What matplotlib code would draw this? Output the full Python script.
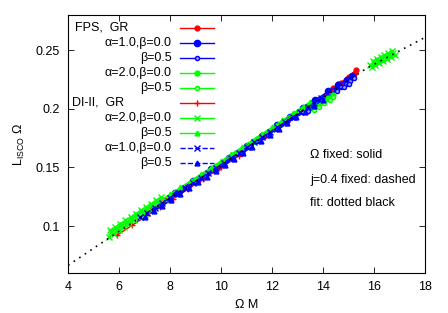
import matplotlib
matplotlib.use('Agg')
import matplotlib.pyplot as plt

plt.rcParams['font.family'] = ['Liberation Sans', 'DejaVu Sans']
plt.rcParams['font.size'] = 9
plt.rcParams['mathtext.default'] = 'regular'

# fit (dotted black)
fit_x = [4.0, 5.65, 10.0, 15.7, 18.0]
fit_y = [0.0665, 0.0905, 0.152, 0.2345, 0.261]

# FPS, GR
fps_gr_x = [[7.3, 7.8, 8.4, 9.1, 9.9, 10.8, 11.7, 12.6, 13.4, 14.1, 14.6, 15.0, 15.3],
            [14.4, 14.7, 14.95, 15.2]]
fps_gr_y = [[0.1150, 0.1220, 0.1300, 0.1395, 0.1505, 0.1635, 0.1765, 0.1895, 0.2015, 0.2120, 0.2210, 0.2275, 0.2330],
            [0.2175, 0.2220, 0.2258, 0.2300]]
# FPS alpha=1.0, beta=0.0
fps_a1b0_x = [[8.2, 8.9, 9.6, 10.3, 11.0, 11.6, 12.2, 12.7, 13.2, 13.7, 14.2, 14.6, 14.95, 15.15]]
fps_a1b0_y = [[0.1285, 0.1385, 0.1483, 0.1583, 0.1685, 0.1772, 0.1860, 0.1933, 0.2005, 0.2078, 0.2148, 0.2200, 0.2250, 0.2280]]
# FPS beta=0.5
fps_a1b5_x = [[8.0, 8.35, 8.7, 9.05, 9.4, 9.75, 10.1, 10.45, 10.8, 11.15, 11.5, 11.85, 12.2,
               12.55, 12.9, 13.2, 13.5, 13.75, 14.0, 14.25, 14.5, 14.7, 14.9, 15.05, 15.2],
              [13.4, 13.7, 14.0, 14.3, 14.55, 14.8, 15.0]]
fps_a1b5_y = [[0.1227, 0.1276, 0.1326, 0.1375, 0.1424, 0.1474, 0.1524, 0.1575, 0.1626, 0.1676, 0.1727, 0.1778, 0.1828,
               0.1879, 0.1929, 0.1972, 0.2016, 0.2052, 0.2089, 0.2123, 0.2158, 0.2187, 0.2215, 0.2238, 0.2262],
              [0.1985, 0.2028, 0.2072, 0.2113, 0.2150, 0.2186, 0.2215]]
# FPS alpha=2.0, beta=0.0
fps_a2b0_x = [[9.0, 9.8, 10.6, 11.4, 12.2, 12.9, 13.5],
              [13.6, 13.8, 14.0, 14.2, 14.4]]
fps_a2b0_y = [[0.1395, 0.1510, 0.1625, 0.1740, 0.1855, 0.1955, 0.2040],
              [0.2005, 0.2033, 0.2062, 0.2090, 0.2118]]
# FPS beta=0.5
fps_a2b5_x = [[13.65, 13.85, 14.05, 14.25, 14.4]]
fps_a2b5_y = [[0.1990, 0.2018, 0.2046, 0.2075, 0.2097]]
# DI-II, GR
di_gr_x = [[5.9, 6.5, 7.1, 7.6, 8.1, 8.7, 9.3, 10.0, 10.7]]
di_gr_y = [[0.0920, 0.1005, 0.1090, 0.1160, 0.1230, 0.1315, 0.1400, 0.1500, 0.1600]]
# DI-II alpha=2.0, beta=0.0
di_a2b0_x = [[5.6, 5.8, 6.0, 6.2, 6.4, 6.6, 6.8, 7.0, 7.2, 7.4, 7.6, 7.8],
             [5.7, 5.9, 6.1, 6.3, 6.5, 6.7, 6.9, 7.1, 7.3, 7.5],
             [5.65, 5.85, 6.05, 6.25, 6.45, 6.65, 6.85, 7.05, 7.25, 7.45, 7.65],
             [15.95, 16.1, 16.25, 16.4, 16.55, 16.7],
             [15.85, 16.0, 16.15, 16.3, 16.45, 16.6, 16.75],
             [15.9, 16.05, 16.2, 16.35, 16.5, 16.65, 16.8]]
di_a2b0_y = [[0.0908, 0.0936, 0.0964, 0.0992, 0.1021, 0.1049, 0.1078, 0.1106, 0.1134, 0.1163, 0.1191, 0.1220],
             [0.0949, 0.0977, 0.1005, 0.1034, 0.1062, 0.1090, 0.1119, 0.1147, 0.1176, 0.1204],
             [0.0965, 0.0993, 0.1021, 0.1050, 0.1078, 0.1106, 0.1135, 0.1163, 0.1191, 0.1220, 0.1248],
             [0.2410, 0.2428, 0.2445, 0.2462, 0.2479, 0.2497],
             [0.2375, 0.2393, 0.2410, 0.2428, 0.2445, 0.2462, 0.2479],
             [0.2355, 0.2373, 0.2390, 0.2408, 0.2425, 0.2442, 0.2460]]
# DI-II beta=0.5
di_a2b5_x = [[7.6, 8.0, 8.4, 8.8, 9.2, 9.6, 10.0, 10.4, 10.8, 11.2, 11.6, 12.0, 12.4, 12.8, 13.2, 13.5]]
di_a2b5_y = [[0.1216, 0.1272, 0.1329, 0.1385, 0.1442, 0.1498, 0.1555, 0.1613, 0.1671, 0.1729, 0.1787, 0.1844,
              0.1902, 0.1960, 0.2018, 0.2061]]
# DI-II alpha=1.0, beta=0.0 (j=0.4)
di_a1b0_x = [[6.8, 7.1, 7.4, 7.7, 8.0, 8.3, 8.6, 8.9, 9.2, 9.5, 9.8, 10.1, 10.4, 10.7, 11.0, 11.3, 11.6,
              11.9, 12.2, 12.5, 12.8, 13.1, 13.4, 13.65, 13.9]]
di_a1b0_y = [[0.1073, 0.1115, 0.1158, 0.1200, 0.1242, 0.1285, 0.1327, 0.1370, 0.1412, 0.1454, 0.1497, 0.1539,
              0.1583, 0.1626, 0.1670, 0.1713, 0.1757, 0.1800, 0.1843, 0.1887, 0.1930, 0.1973, 0.2017, 0.2053,
              0.2089]]
# DI-II beta=0.5 (j=0.4)
di_a1b5_x = [[7.0, 7.35, 7.7, 8.05, 8.4, 8.75, 9.1, 9.45, 9.8, 10.15, 10.5, 10.85, 11.2, 11.55, 11.9,
              12.25, 12.6, 12.95, 13.3, 13.65, 14.0]]
di_a1b5_y = [[0.1076, 0.1126, 0.1175, 0.1224, 0.1274, 0.1323, 0.1373, 0.1422, 0.1472, 0.1522, 0.1572, 0.1623,
              0.1674, 0.1725, 0.1775, 0.1826, 0.1876, 0.1927, 0.1977, 0.2028, 0.2079]]

labels = ['FPS,  GR', 'α=1.0,β=0.0', 'β=0.5', 'α=2.0,β=0.0', 'β=0.5',
          'DI-II,  GR', 'α=2.0,β=0.0', 'β=0.5', 'α=1.0,β=0.0', 'β=0.5']

series = [
    (fps_gr_x, fps_gr_y, dict(color='#ff0000', ls='-', marker='o', ms=3.5)),
    (fps_a1b0_x, fps_a1b0_y, dict(color='#0000ff', ls='-', marker='o', ms=4.5)),
    (fps_a1b5_x, fps_a1b5_y, dict(color='#0000ff', ls='-', marker='o', ms=3, mfc='#9999ff')),
    (fps_a2b0_x, fps_a2b0_y, dict(color='#00ff00', ls='-', marker='o', ms=3.5)),
    (fps_a2b5_x, fps_a2b5_y, dict(color='#00ff00', ls='-', marker='o', ms=3, mfc='#99ff99')),
    (di_gr_x, di_gr_y, dict(color='#ff0000', ls='-', marker='+', ms=4.5)),
    (di_a2b0_x, di_a2b0_y, dict(color='#00ff00', ls='-', marker='x', ms=4)),
    (di_a2b5_x, di_a2b5_y, dict(color='#00ff00', ls='-', marker='^', ms=3.5)),
    (di_a1b0_x, di_a1b0_y, dict(color='#0000ff', ls='--', marker='x', ms=4)),
    (di_a1b5_x, di_a1b5_y, dict(color='#0000ff', ls='--', marker='^', ms=3.5)),
]

fig = plt.figure(figsize=(4.48, 3.13), dpi=100)
ax = fig.add_axes([0.152, 0.128, 0.797, 0.824])

for xs, ys, st in series:
    for cx, cy in zip(xs, ys):
        ax.plot(cx, cy, lw=1, **st)

ax.plot(fit_x, fit_y, color='black', ls=(0, (1, 3)), lw=1.2)

# legend, gnuplot style: text right-aligned, sample to the right
row0 = 0.951
dy = 0.0581
for i, (lab, (xs, ys, st)) in enumerate(zip(labels, series)):
    y = row0 - i * dy
    if i in (0, 5):
        ax.text(0.0196 if i == 0 else 0.0104, y, lab, transform=ax.transAxes,
                ha='left', va='center')
    else:
        ax.text(0.2905, y, lab, transform=ax.transAxes, ha='right', va='center')
    ax.plot([0.3137, 0.409], [y, y], transform=ax.transAxes, lw=1,
            color=st['color'], ls=st['ls'])
    ax.plot([0.361], [y], transform=ax.transAxes, ls='none', color=st['color'],
            marker=st['marker'], ms=st['ms'], mfc=st.get('mfc', st['color']))

ax.text(13.49, 0.1608, 'Ω fixed: solid', ha='left', va='center')
ax.text(13.49, 0.1395, 'j=0.4 fixed: dashed', ha='left', va='center')
ax.text(13.49, 0.1199, 'fit: dotted black', ha='left', va='center')

ax.set_xlim(4, 18)
ax.set_ylim(0.06, 0.28)
ax.set_xticks([4, 6, 8, 10, 12, 14, 16, 18])
ax.set_yticks([0.1, 0.15, 0.2, 0.25])
ax.set_yticklabels(['0.1', '0.15', '0.2', '0.25'])
ax.tick_params(direction='in', top=True, right=True, length=4, width=0.6, pad=6)
ax.set_xlabel('Ω M', labelpad=4)
ax.set_ylabel(r'$L_{ISCO}\ \Omega$', labelpad=6)

fig.savefig('out.png', dpi=100)
